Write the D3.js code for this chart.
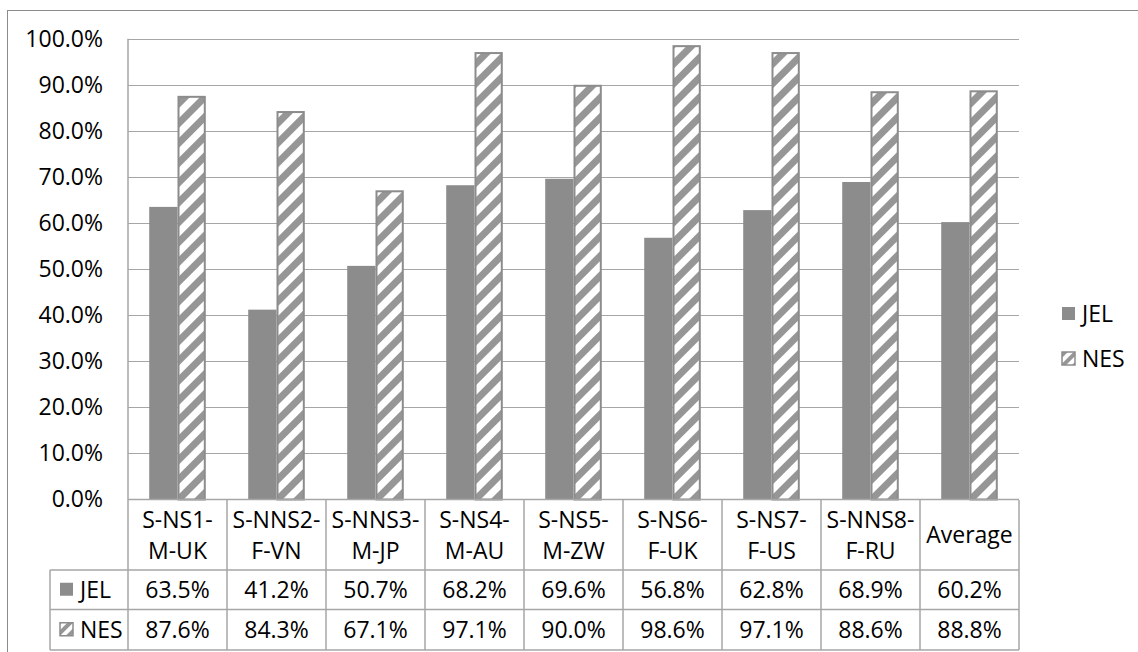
<!DOCTYPE html>
<html><head><meta charset="utf-8">
<script src="https://cdn.jsdelivr.net/npm/d3@7"></script>
<style>body{margin:0;background:#fff}svg{display:block}text{font-family:"Open Sans",sans-serif;fill:#000}</style>
</head><body><svg id="c" width="1138" height="652"></svg>
<script>
const categories = [["S-NS1-","M-UK"],["S-NNS2-","F-VN"],["S-NNS3-","M-JP"],["S-NS4-","M-AU"],["S-NS5-","M-ZW"],["S-NS6-","F-UK"],["S-NS7-","F-US"],["S-NNS8-","F-RU"],["Average"]];
const seriesNames = ["JEL","NES"];
const jel = [0.635,0.412,0.507,0.682,0.696,0.568,0.628,0.689,0.602];
const nes = [0.876,0.843,0.671,0.971,0.900,0.986,0.971,0.886,0.888];
const yTicks = [0,0.1,0.2,0.3,0.4,0.5,0.6,0.7,0.8,0.9,1.0];

const svg = d3.select("#c");
const FS = 23;
const gridC = "#a6a6a6", barC = "#8c8c8c", stripeC = "#969696";
const X0 = 128, X1 = 1019, YT = 38.7, YB = 499.5;
const catIdx = categories.map((d,i)=>i);
const x = d3.scaleBand().domain(catIdx).range([X0,X1]).padding(0);
const xs = d3.scaleBand().domain(seriesNames).range([0,x.bandwidth()]).paddingInner(0).paddingOuter(0.75);
const y = d3.scaleLinear().domain([0,1]).range([YB,YT]);

const defs = svg.append("defs");
const pat = defs.append("pattern").attr("id","hatch").attr("patternUnits","userSpaceOnUse")
  .attr("width",14).attr("height",14).attr("patternTransform","rotate(45)");
pat.append("rect").attr("width",14).attr("height",14).attr("fill","#fff");
pat.append("rect").attr("width",7).attr("height",14).attr("fill",stripeC);
const pat2 = defs.append("pattern").attr("id","hatchS").attr("patternUnits","userSpaceOnUse")
  .attr("width",8).attr("height",8).attr("patternTransform","rotate(45)");
pat2.append("rect").attr("width",8).attr("height",8).attr("fill","#fff");
pat2.append("rect").attr("width",4).attr("height",8).attr("fill",stripeC);

// outer chart border
svg.append("rect").attr("x",7.5).attr("y",10.5).attr("width",1200).attr("height",700)
  .attr("fill","#fff").attr("stroke","#8c8c8c").attr("stroke-width",1);

// gridlines
svg.append("g").selectAll("line").data(yTicks.filter(t=>t>0)).join("line")
  .attr("x1",X0).attr("x2",X1).attr("y1",d=>Math.round(y(d))+0.5).attr("y2",d=>Math.round(y(d))+0.5)
  .attr("stroke",gridC).attr("stroke-width",1.2);

// y axis labels
const yAxis = d3.axisLeft(y).tickValues(yTicks).tickFormat(d3.format(".1%")).tickSize(0).tickPadding(25);
const ga = svg.append("g").attr("transform",`translate(${X0},0)`).call(yAxis);
ga.select(".domain").remove();
ga.selectAll("text").attr("font-size",FS).attr("font-family","'Open Sans',sans-serif").attr("fill","#000");

// bars
const series = [{name:"JEL",vals:jel},{name:"NES",vals:nes}];
series.forEach(s=>{
  svg.append("g").selectAll("rect").data(s.vals).join("rect")
    .attr("x",(d,i)=>x(i)+xs(s.name)+(s.name==="NES"?1:0))
    .attr("width",xs.bandwidth()-(s.name==="NES"?2:0))
    .attr("y",d=>y(d)+(s.name==="NES"?1:0))
    .attr("height",d=>YB-y(d)-(s.name==="NES"?1:0))
    .attr("fill",s.name==="JEL"?barC:"url(#hatch)")
    .attr("stroke",s.name==="NES"?barC:"none").attr("stroke-width",2);
});

// table lines
const T0 = 500, T1 = 570, T2 = 609.5, T3 = 650, TL = 50;
const tl = svg.append("g").attr("stroke",gridC).attr("stroke-width",1.5);
tl.append("line").attr("x1",X0).attr("x2",X1).attr("y1",YB).attr("y2",YB);
tl.append("line").attr("x1",X0).attr("x2",X0).attr("y1",YT).attr("y2",T3);
[T1,T2,T3].forEach(v=>tl.append("line").attr("x1",TL).attr("x2",X1).attr("y1",v).attr("y2",v));
tl.append("line").attr("x1",TL).attr("x2",TL).attr("y1",T1).attr("y2",T3);
tl.selectAll(".v").data(catIdx).join("line").attr("class","v")
  .attr("x1",d=>x(d)+x.bandwidth()).attr("x2",d=>x(d)+x.bandwidth()).attr("y1",T0).attr("y2",T3);

// category labels
const cl = svg.append("g").attr("font-size",FS).attr("text-anchor","middle");
categories.forEach((c,i)=>{
  const cx = x(i)+x.bandwidth()/2;
  const t = cl.append("text").attr("x",cx).attr("font-size",FS);
  if(c.length===2){
    t.append("tspan").attr("x",cx).attr("y",528).text(c[0]);
    t.append("tspan").attr("x",cx).attr("y",559).text(c[1]);
  } else t.attr("y",543).text(c[0]);
});

// value rows
const fmt = d3.format(".1%");
const rows = [{name:"JEL",vals:jel,cy:(T1+T2)/2},{name:"NES",vals:nes,cy:(T2+T3)/2}];
rows.forEach(r=>{
  svg.append("g").selectAll("text").data(r.vals).join("text")
    .attr("x",(d,i)=>x(i)+x.bandwidth()/2).attr("y",r.cy+7.8).attr("text-anchor","middle")
    .attr("font-size",FS).text(d=>fmt(d));
  svg.append("rect").attr("x",60).attr("y",r.cy-7).attr("width",13).attr("height",13)
    .attr("fill",r.name==="JEL"?barC:"url(#hatchS)").attr("stroke",r.name==="NES"?barC:"none").attr("stroke-width",1.5);
  svg.append("text").attr("x",80).attr("y",r.cy+7.8).attr("font-size",FS).text(r.name);
});

// legend
const lg = svg.append("g");
[{name:"JEL",y:314},{name:"NES",y:359}].forEach(l=>{
  lg.append("rect").attr("x",1062).attr("y",l.y-7).attr("width",13).attr("height",13)
    .attr("fill",l.name==="JEL"?barC:"url(#hatchS)").attr("stroke",l.name==="NES"?barC:"none").attr("stroke-width",1.5);
  lg.append("text").attr("x",1082).attr("y",l.y+7.8).attr("font-size",FS).text(l.name);
});
</script></body></html>
